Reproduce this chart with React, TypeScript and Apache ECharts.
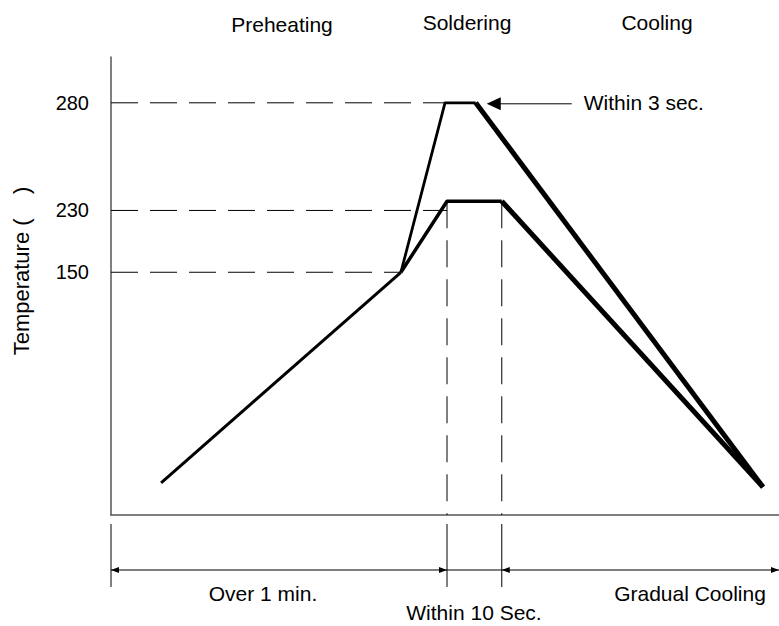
import React, { useEffect, useRef } from "react";
import * as echarts from "echarts";

// ---- data (schematic reflow-soldering profile) ----
const Y_LABEL_TEMPS = [150, 230, 280];
const Y_LABEL_LEVELS = [53, 66.5, 90]; // schematic heights of those temperatures
const preheatCurve = [[7.5, 7.0], [43.4, 53.0]];
const peakRamp = [[43.4, 53.0], [50.0, 90.0], [54.6, 90.0]];
const peakCooling = [[54.6, 90.0], [97.6, 6.1]];
const lowRamp = [[43.4, 53.0], [50.3, 68.5], [58.5, 68.5]];
const lowCooling = [[58.5, 68.5], [97.6, 6.1]];
const phaseLabels = ["Preheating", "Soldering", "Cooling"];
const spanLabels = ["Over 1 min.", "Within 10 Sec.", "Gradual Cooling"];
const peakNote = "Within 3 sec.";
const yName = "Temperature (    )";

const FONT = "Liberation Sans";

export default function App() {
  const ref = useRef<HTMLDivElement>(null);
  useEffect(() => {
    if (!ref.current) return;
    const chart = echarts.init(ref.current, undefined, { renderer: "svg" });
    const dash = [27, 12];
    const guide = (data: number[][]) => ({
      type: "line",
      data,
      symbol: "none",
      silent: true,
      z: 1,
      lineStyle: { color: "#000", width: 1, type: dash },
    });
    const curve = (data: number[][], width: number) => ({
      type: "line",
      data,
      symbol: "none",
      z: 5,
      lineStyle: { color: "#000", width, cap: "butt", join: "round" },
    });
    const labelMap: Record<string, string> = {};
    Y_LABEL_LEVELS.forEach((v, i) => (labelMap[(Math.round(v * 10) / 10).toFixed(1)] = String(Y_LABEL_TEMPS[i])));

    const lvl280 = Y_LABEL_LEVELS[2];
    const lvl230 = Y_LABEL_LEVELS[1];
    const lvl150 = Y_LABEL_LEVELS[0];
    const tStart = lowRamp[1][0];
    const tEnd = lowRamp[2][0];

    chart.setOption({
      animation: false,
      textStyle: { fontFamily: FONT },
      grid: { left: 111, right: 0, top: 57, bottom: 111 },
      xAxis: {
        type: "value",
        min: 0,
        max: 100,
        axisLine: { show: true, lineStyle: { color: "#555", width: 1.5 } },
        axisTick: { show: false },
        axisLabel: { show: false },
        splitLine: { show: false },
      },
      yAxis: {
        type: "value",
        min: 0,
        max: 100,
        interval: 0.5,
        axisLine: { show: true, lineStyle: { color: "#555", width: 1.5 } },
        axisTick: { show: false },
        splitLine: { show: false },
        axisLabel: {
          formatter: (v: number) => labelMap[(Math.round(v * 10) / 10).toFixed(1)] ?? "",
          fontSize: 20,
          fontFamily: FONT,
          color: "#000",
          margin: 22,
        },
      },
      series: [
        guide([[0, lvl280], [peakRamp[1][0], lvl280]]),
        guide([[0, lvl230], [tStart, lvl230]]),
        guide([[0, lvl150], [preheatCurve[1][0], lvl150]]),
        guide([[tStart, lowRamp[1][1]], [tStart, 0]]),
        guide([[tEnd, lowRamp[2][1]], [tEnd, 0]]),
        curve(preheatCurve, 3),
        curve(peakRamp, 2.8),
        curve(peakCooling, 5),
        curve(lowRamp, 3.5),
        curve(lowCooling, 5),
      ],
    });

    const px = (x: number, y: number) => chart.convertToPixel({ gridIndex: 0 }, [x, y]) as number[];
    const x0 = px(0, 0)[0];
    const xS = px(tStart, 0)[0];
    const xE = px(tEnd, 0)[0];
    const xR = 779;
    const dimY = 570;
    const tickTop = 524;
    const tickBot = 587;
    const ah = (tipX: number, tipY: number, dir: number, len: number, half: number) => ({
      type: "polygon",
      shape: { points: [[tipX, tipY], [tipX - dir * len, tipY - half], [tipX - dir * len, tipY + half]] },
      style: { fill: "#000" },
    });
    const peak = px(peakRamp[2][0], lvl280);
    const tipX = peak[0] + 11;
    const text = (t: string, x: number, y: number, align = "center", extra: any = {}, size = 21) => ({
      type: "text",
      x,
      y,
      ...extra,
      style: { text: t, x: 0, y: 0, fill: "#000", fontSize: size, fontFamily: FONT, align, verticalAlign: "middle" },
    });

    chart.setOption({
      graphic: [
        { type: "line", shape: { x1: x0, y1: dimY, x2: xR, y2: dimY }, style: { stroke: "#555", lineWidth: 1.5 } },
        ...[x0, xS, xE].map((x) => ({
          type: "line",
          shape: { x1: x, y1: tickTop, x2: x, y2: tickBot },
          style: { stroke: "#000", lineWidth: 1 },
        })),
        ah(x0, dimY, -1, 8, 3),
        ah(xS, dimY, 1, 8, 3),
        ah(xE, dimY, -1, 8, 3),
        ah(xR, dimY, 1, 8, 3),
        { type: "line", shape: { x1: tipX + 12, y1: peak[1] + 1, x2: tipX + 85, y2: peak[1] + 1 }, style: { stroke: "#000", lineWidth: 1 } },
        ah(tipX, peak[1] + 1, -1, 14, 6.5),
        text(peakNote, tipX + 97, peak[1], "left"),
        text(phaseLabels[0], 282, 24),
        text(phaseLabels[1], 467, 22),
        text(phaseLabels[2], 657, 22),
        text(spanLabels[0], 263, 593),
        text(spanLabels[1], 474, 612),
        text(spanLabels[2], 690, 593),
        text(yName, 21, 271, "center", { rotation: Math.PI / 2 }, 22),
      ],
    });

    return () => chart.dispose();
  }, []);
  return (
    <div
      ref={ref}
      style={{ position: "fixed", left: 0, top: 0, width: 779, height: 626, background: "#fff" }}
    />
  );
}
